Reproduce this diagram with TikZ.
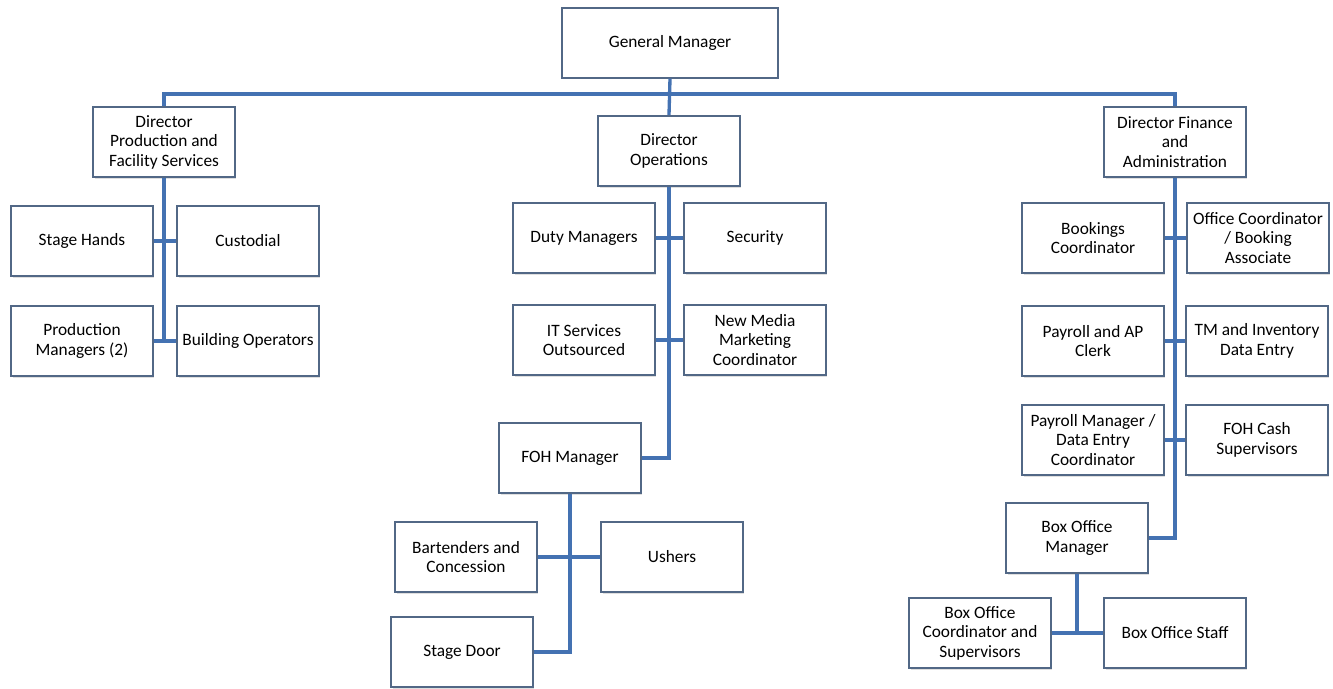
\documentclass[tikz,border=0pt]{standalone}
\usepackage{fontspec}
\setmainfont{Carlito}
\usepackage{xcolor}
\usepackage{tikz}
\usetikzlibrary{positioning, calc, shadows}
\definecolor{boxedge}{RGB}{82, 104, 134}
\definecolor{linkblue}{RGB}{68, 114, 178}

\begin{document}
\begin{tikzpicture}[x=0.75pt, y=-0.75pt,
        orgbox/.style={draw=boxedge, line width=1.3pt, fill=white, align=center,
            minimum width=106pt, minimum height=53pt, inner sep=1pt,
            font=\fontsize{13}{14.6}\selectfont,
            drop shadow={shadow xshift=1pt, shadow yshift=-1pt, opacity=0.25}},
        gmbox/.style={orgbox, minimum width=162pt, minimum height=52pt},
        link/.style={draw=linkblue, line width=2.5pt}]
    \useasboundingbox (0,0) rectangle (1333,688);

    % top level
    \node[gmbox] (gm) at (670,43) {General Manager};
    \node[orgbox] (dprod) at (164,142) {Director\\Production and\\Facility Services};
    \node[orgbox] (dops) at (669,151) {Director\\Operations};
    \node[orgbox] (dfin) at (1175,142) {Director Finance\\and\\Administration};

    % production and facility
    \node[orgbox] (stagehands) at (82,241) {Stage Hands};
    \node[orgbox] (custodial) at (248,241) {Custodial};
    \node[orgbox] (prodmgr) at (82,341) {Production\\Managers (2)};
    \node[orgbox] (buildops) at (248,341) {Building Operators};

    % operations
    \node[orgbox] (duty) at (584,238) {Duty Managers};
    \node[orgbox] (security) at (755,238) {Security};
    \node[orgbox] (itserv) at (584,340) {IT Services\\Outsourced};
    \node[orgbox] (newmedia) at (755,340) {New Media\\Marketing\\Coordinator};
    \node[orgbox] (foh) at (570,458) {FOH Manager};
    \node[orgbox] (bartend) at (466,557) {Bartenders and\\Concession};
    \node[orgbox] (ushers) at (672,557) {Ushers};
    \node[orgbox] (stagedoor) at (462,652) {Stage Door};

    % finance and administration
    \node[orgbox] (bookings) at (1093,238) {Bookings\\Coordinator};
    \node[orgbox] (officecoord) at (1258,238) {Office Coordinator\\/ Booking\\Associate};
    \node[orgbox] (payrollap) at (1093,341) {Payroll and AP\\Clerk};
    \node[orgbox] (tminv) at (1257,341) {TM and Inventory\\Data Entry};
    \node[orgbox] (payrollmgr) at (1093,440) {Payroll Manager /\\Data Entry\\Coordinator};
    \node[orgbox] (fohcash) at (1257,440) {FOH Cash\\Supervisors};
    \node[orgbox] (boxmgr) at (1077,538) {Box Office\\Manager};
    \node[orgbox] (bocoord) at (980,633) {Box Office\\Coordinator and\\Supervisors};
    \node[orgbox] (bostaff) at (1175,633) {Box Office Staff};

    % connectors
    \coordinate (bar) at (669,94);
    \draw[link] (dprod.north) |- (bar) -| (dfin.north);
    \draw[link] (gm.south) -- (dops.north);

    \draw[link] (dprod.south) -- (dprod.south |- prodmgr.east);
    \draw[link] (stagehands.east) -- (custodial.west);
    \draw[link] (prodmgr.east) -- (buildops.west);

    \draw[link] (dops.south) |- (foh.east);
    \draw[link] (duty.east) -- (security.west);
    \draw[link] (itserv.east) -- (newmedia.west);
    \draw[link] (foh.south) |- (stagedoor.east);
    \draw[link] (bartend.east) -- (ushers.west);

    \draw[link] (dfin.south) |- (boxmgr.east);
    \draw[link] (bookings.east) -- (officecoord.west);
    \draw[link] (payrollap.east) -- (tminv.west);
    \draw[link] (payrollmgr.east) -- (fohcash.west);
    \draw[link] (boxmgr.south) -- (boxmgr.south |- bocoord.east);
    \draw[link] (bocoord.east) -- (bostaff.west);
\end{tikzpicture}
\end{document}
